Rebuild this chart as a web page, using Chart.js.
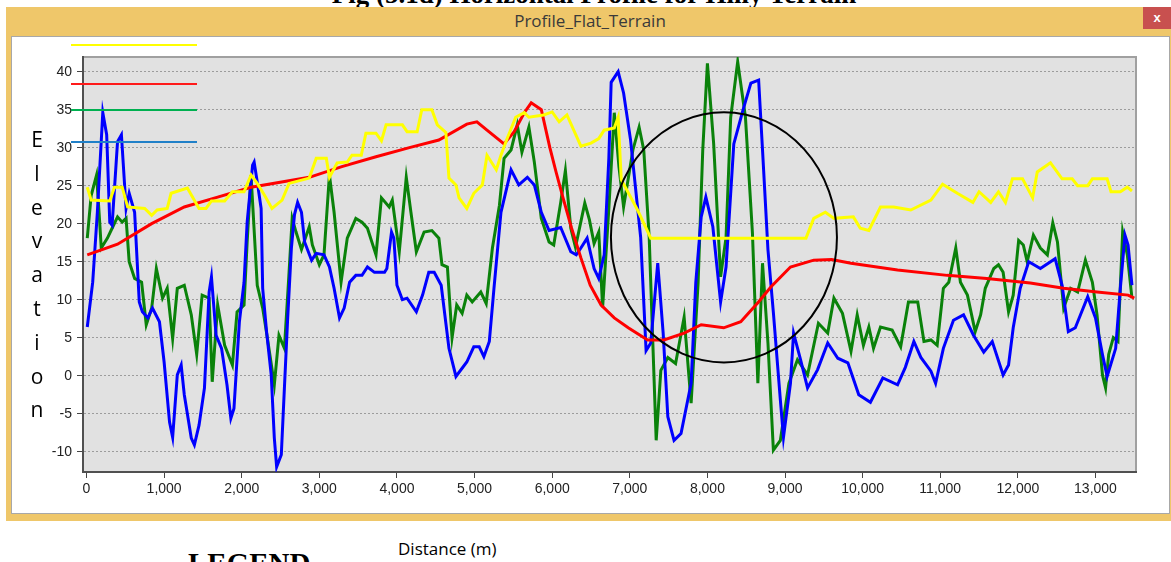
<!DOCTYPE html>
<html>
<head>
<meta charset="utf-8">
<script src="https://cdn.jsdelivr.net/npm/chart.js@4.4.1/dist/chart.umd.min.js"></script>
<style>
	body { margin: 0; width: 1171px; height: 562px; overflow: hidden; background: #fff; position: relative; }
	#figTitle { position: absolute; left: 0; width: 1188px; top: -19px; text-align: center; font: bold 27px/27px "Liberation Serif", serif; color: #000; white-space: nowrap; }
	#win { position: absolute; left: 6px; top: 7px; width: 1180px; height: 514px; background: #efc76a; }
	#winTitle { position: absolute; left: 0; top: 0; width: 1168px; height: 29px; text-align: center; font: 17px/27px "Open Sans", sans-serif; color: #3a3a3a; }
	#closeBtn { position: absolute; left: 1137px; top: 0; width: 28px; height: 22px; background: #c8504f; color: #fff; text-align: center; font: bold 13px/21px "Liberation Sans", sans-serif; }
	#panel { position: absolute; left: 5px; top: 29px; width: 1157px; height: 476px; background: #fff; border: 1px solid #a8a8a8; }
	#xTitle { position: absolute; left: 398px; top: 538px; font: 17px/22px "Open Sans", sans-serif; color: #000; }
	#legendTitle { position: absolute; left: 188px; top: 549px; font: bold 29px/29px "Liberation Serif", serif; color: #000; }
</style>
</head>
<body>
<div id="figTitle">Fig (5.1d) Horizontal Profile for Hilly Terrain</div>
<div id="win">
	<div id="winTitle">Profile_Flat_Terrain</div>
	<div id="closeBtn">x</div>
	<div id="panel"><canvas id="profile" width="1157" height="476"></canvas></div>
</div>
<div id="xTitle">Distance (m)</div>
<div id="legendTitle">LEGEND</div>

<script>
// [distance (m), elevation]
const yellowProfile = [
	[10, 24.8], [60, 23.1], [300, 23.0], [360, 24.8], [460, 24.8], [530, 22.2], [750, 22.0], [840, 21.1],
	[910, 21.8], [1040, 22.0], [1090, 24.0], [1300, 24.7], [1450, 22.0], [1540, 22.0], [1610, 23.0], [1780, 23.0],
	[1880, 24.2], [2030, 24.2], [2120, 26.4], [2200, 25.3], [2290, 23.8], [2390, 22.0], [2520, 23.1], [2610, 25.3],
	[2870, 26.0], [2960, 28.6], [3090, 28.6], [3130, 26.1], [3230, 28.0], [3360, 28.1], [3420, 29.0], [3540, 29.0],
	[3600, 31.9], [3730, 31.9], [3800, 30.9], [3860, 33.0], [4070, 33.0], [4130, 32.1], [4260, 32.1], [4320, 35.0],
	[4450, 35.0], [4520, 33.0], [4630, 32.0], [4670, 26.0], [4760, 25.1], [4800, 23.4], [4900, 22.0], [4990, 24.0],
	[5100, 25.1], [5160, 29.0], [5280, 27.1], [5340, 29.0], [5420, 31.2], [5530, 34.0], [5640, 34.6], [5700, 34.0],
	[5890, 34.3], [6000, 34.7], [6090, 33.4], [6190, 34.3], [6370, 30.2], [6500, 30.6], [6600, 31.2], [6670, 32.3],
	[6800, 32.6], [6850, 34.0], [6890, 25.8], [7100, 21.8], [7270, 18.1], [9270, 18.1], [9370, 20.7], [9520, 21.5],
	[9630, 20.7], [9880, 20.9], [9970, 19.4], [10080, 19.1], [10230, 22.2], [10400, 22.2], [10620, 21.8], [10880, 23.1],
	[11030, 25.2], [11220, 24.0], [11420, 22.8], [11500, 24.2], [11650, 22.8], [11750, 24.2], [11840, 22.8], [11930, 25.9],
	[12060, 25.9], [12190, 23.4], [12250, 26.8], [12420, 28.0], [12570, 25.9], [12700, 25.9], [12770, 25.0], [12900, 25.0],
	[12960, 25.9], [13150, 25.9], [13200, 24.2], [13320, 24.2], [13410, 24.8], [13470, 24.3]
];

const redProfile = [
	[10, 15.9], [400, 17.3], [840, 20.0], [1260, 22.2], [1690, 23.5], [2120, 24.8], [2870, 26.1], [3290, 27.5],
	[3730, 28.8], [4160, 30.0], [4540, 31.0], [4900, 33.1], [5030, 33.4], [5160, 32.3], [5380, 30.5], [5510, 32.1],
	[5640, 34.6], [5730, 35.9], [5860, 35.0], [5970, 30.0], [6050, 26.8], [6140, 23.4], [6250, 19.4], [6370, 15.5],
	[6490, 11.9], [6630, 9.3], [6800, 7.6], [6980, 6.3], [7230, 4.7], [7440, 4.7], [7700, 5.6], [7920, 6.7],
	[8210, 6.3], [8430, 7.1], [8650, 9.6], [8820, 11.7], [9070, 14.3], [9370, 15.2], [9600, 15.3], [9850, 14.8],
	[10450, 13.9], [11090, 13.2], [11600, 12.8], [12160, 12.2], [12590, 11.5], [13020, 11.0], [13420, 10.6], [13500, 10.2]
];

const blueProfile = [
	[10, 6.4], [80, 12.3], [140, 21.5], [210, 34.6], [260, 31.7], [300, 20.2], [330, 19.8], [400, 30.8],
	[450, 31.7], [510, 22.0], [550, 24.0], [620, 21.5], [680, 9.7], [720, 8.4], [790, 7.6], [850, 8.9],
	[940, 7.1], [1000, 1.8], [1070, -6.1], [1110, -8.1], [1170, 0.1], [1220, 1.4], [1260, -2.5], [1350, -8.2],
	[1390, -9.1], [1450, -6.5], [1520, -1.6], [1580, 11.0], [1610, 13.0], [1670, 5.3], [1740, 3.6], [1810, -1.2],
	[1860, -5.6], [1900, -4.3], [1970, 7.1], [2030, 12.3], [2070, 20.2], [2140, 27.7], [2160, 28.1], [2200, 25.5],
	[2250, 22.0], [2270, 11.5], [2320, 5.8], [2380, 0.1], [2420, -8.2], [2450, -12.0], [2510, -10.4], [2550, -1.6],
	[2590, 7.1], [2640, 16.8], [2680, 21.2], [2720, 22.8], [2770, 21.5], [2810, 17.6], [2900, 15.2], [2960, 16.1],
	[3060, 15.9], [3130, 14.3], [3190, 11.5], [3260, 7.6], [3320, 8.9], [3390, 12.3], [3470, 13.2], [3550, 13.2],
	[3620, 14.3], [3710, 13.6], [3840, 13.6], [3870, 14.1], [3930, 18.9], [3960, 18.1], [4000, 11.9], [4070, 10.0],
	[4130, 10.2], [4250, 8.4], [4330, 10.6], [4410, 13.6], [4480, 13.6], [4570, 11.9], [4670, 3.6], [4760, -0.1],
	[4900, 1.8], [4990, 3.8], [5060, 3.8], [5120, 2.5], [5190, 4.5], [5250, 11.5], [5340, 21.5], [5470, 27.1],
	[5570, 25.1], [5680, 26.1], [5770, 25.1], [5860, 21.5], [5960, 19.1], [6110, 19.5], [6240, 16.3], [6310, 15.9],
	[6370, 16.8], [6450, 18.1], [6540, 14.1], [6600, 12.8], [6670, 15.9], [6730, 28.6], [6760, 38.6], [6850, 40.0],
	[6920, 37.2], [7010, 31.0], [7140, 18.2], [7210, 3.3], [7270, 4.3], [7360, 14.8], [7430, 5.6], [7490, -5.4],
	[7570, -8.5], [7660, -7.6], [7790, -1.0], [7850, 12.2], [7920, 20.9], [7980, 23.5], [8070, 19.6], [8170, 9.7],
	[8240, 14.3], [8340, 30.5], [8460, 35.0], [8560, 38.5], [8660, 38.9], [8710, 29.7], [8780, 16.6], [8850, 8.3],
	[8940, -3.2], [8980, -8.1], [9070, -1.0], [9110, 5.6], [9200, 2.1], [9290, -1.6], [9420, 0.8], [9550, 4.3],
	[9680, 2.3], [9810, 1.7], [9950, -2.5], [10100, -3.5], [10260, -0.3], [10450, -1.2], [10550, 1.1], [10660, 4.5],
	[10750, 2.4], [10880, 0.6], [10940, -1.0], [11040, 3.6], [11170, 7.3], [11300, 8.0], [11430, 5.3], [11560, 3.1],
	[11670, 4.5], [11810, 0.1], [11880, 1.4], [11940, 6.3], [12030, 11.5], [12140, 15.0], [12290, 14.1], [12480, 15.4],
	[12570, 11.9], [12650, 5.8], [12740, 6.3], [12900, 10.4], [13000, 7.6], [13090, 2.8], [13150, -0.1], [13260, 3.6],
	[13320, 11.5], [13380, 18.5], [13420, 17.2], [13470, 11.9]
];

const greenProfile = [
	[10, 18.1], [60, 23.7], [130, 26.4], [170, 20.2], [190, 16.8], [270, 18.1], [330, 19.4], [400, 20.9],
	[460, 20.2], [510, 20.7], [550, 15.0], [620, 12.8], [710, 12.3], [770, 6.7], [840, 8.9], [900, 14.1],
	[980, 10.2], [1040, 11.5], [1110, 4.9], [1170, 11.5], [1260, 11.9], [1350, 8.0], [1420, 2.8], [1490, 10.6],
	[1580, 10.2], [1620, -0.8], [1690, 9.3], [1780, 4.0], [1880, 1.4], [1940, 8.4], [2030, 9.3], [2070, 17.6],
	[2120, 26.4], [2200, 11.9], [2270, 8.9], [2330, 5.0], [2420, -1.2], [2480, 5.3], [2550, 3.6], [2610, 13.6],
	[2650, 20.7], [2700, 18.9], [2770, 16.6], [2870, 19.6], [2910, 17.2], [3000, 14.6], [3060, 15.9], [3130, 26.4],
	[3190, 21.5], [3280, 12.3], [3360, 18.1], [3470, 20.7], [3550, 20.2], [3620, 19.4], [3730, 15.9], [3800, 23.4],
	[3900, 22.2], [3940, 23.1], [4030, 16.3], [4120, 26.1], [4180, 21.5], [4250, 16.3], [4350, 18.9], [4450, 19.1],
	[4540, 18.1], [4580, 14.6], [4650, 14.3], [4710, 5.0], [4770, 9.3], [4840, 8.2], [4900, 10.6], [4970, 9.7],
	[5080, 11.0], [5150, 9.5], [5230, 16.8], [5320, 22.4], [5380, 28.6], [5470, 29.7], [5550, 33.0], [5610, 29.4],
	[5700, 32.7], [5770, 28.1], [5860, 20.7], [5960, 17.6], [6020, 17.2], [6110, 22.8], [6170, 27.0], [6240, 19.4],
	[6300, 16.9], [6420, 22.7], [6480, 20.5], [6540, 17.4], [6600, 18.9], [6650, 9.0], [6730, 22.0], [6800, 34.6],
	[6860, 27.5], [6920, 22.2], [7040, 29.7], [7120, 32.7], [7180, 29.7], [7250, 18.2], [7340, -8.5], [7400, 0.7],
	[7490, 2.4], [7590, 1.6], [7700, 7.7], [7790, -3.6], [7880, 12.2], [7940, 29.7], [8000, 41.1], [8080, 30.6],
	[8170, 13.0], [8240, 18.2], [8300, 34.0], [8390, 41.3], [8490, 34.0], [8580, 18.8], [8650, -1.0], [8710, 14.8],
	[8780, 4.3], [8850, -9.8], [8940, -8.5], [9050, -1.0], [9160, 2.1], [9290, 0.1], [9430, 6.9], [9550, 5.6],
	[9630, 10.2], [9740, 8.2], [9850, 3.2], [9930, 8.0], [10010, 4.0], [10080, 6.4], [10140, 3.6], [10230, 6.4],
	[10380, 6.0], [10490, 3.8], [10590, 9.7], [10710, 9.7], [10790, 4.5], [10880, 4.7], [10960, 4.0], [11040, 11.5],
	[11110, 12.3], [11200, 16.8], [11260, 12.3], [11350, 10.6], [11450, 5.8], [11520, 8.0], [11580, 11.5], [11690, 14.1],
	[11750, 14.6], [11810, 13.6], [11880, 8.4], [11940, 10.6], [12010, 17.8], [12070, 17.2], [12120, 15.0], [12200, 18.5],
	[12290, 16.8], [12380, 15.9], [12450, 20.1], [12510, 17.6], [12590, 8.9], [12680, 11.5], [12770, 11.0], [12870, 15.2],
	[12960, 12.3], [13020, 8.0], [13090, 0.1], [13130, -1.6], [13170, 2.8], [13230, 5.0], [13290, 4.5], [13350, 18.9],
	[13410, 15.9], [13470, 10.2]
];

const distanceTicks = [0, 1000, 2000, 3000, 4000, 5000, 6000, 7000, 8000, 9000, 10000, 11000, 12000, 13000];
const elevationTicks = [-10, -5, 0, 5, 10, 15, 20, 25, 30, 35, 40];

// highlighted zone (circle drawn in data units)
const zoneCenter = [8213, 18.2];
const zoneRadius = [1456, 16.45];

const yAxisLetters = 'Elevation'.split('');
const legendColors = ['#ffff00', '#ff1a1a', '#00b050', '#2080c8'];

const toPoints = rows => rows.map(r => ({ x: r[0], y: r[1] }));

const plotFrame = {
	id: 'plotFrame',
	beforeDraw(chart) {
		const { ctx, chartArea: a } = chart;
		ctx.save();
		ctx.fillStyle = '#e1e1e1';
		ctx.fillRect(a.left, a.top, a.right - a.left, a.bottom - a.top);
		ctx.strokeStyle = '#a0a0a0';
		ctx.lineWidth = 2;
		ctx.beginPath();
		ctx.moveTo(a.left, a.top);
		ctx.lineTo(a.right, a.top);
		ctx.lineTo(a.right, a.bottom);
		ctx.stroke();
		ctx.restore();
	},
	afterDatasetsDraw(chart) {
		const { ctx, chartArea: a, scales: { x, y } } = chart;
		ctx.save();
		// circle around the zone
		const cx = x.getPixelForValue(zoneCenter[0]);
		const cy = y.getPixelForValue(zoneCenter[1]);
		const rx = x.getPixelForValue(zoneCenter[0] + zoneRadius[0]) - cx;
		const ry = cy - y.getPixelForValue(zoneCenter[1] + zoneRadius[1]);
		ctx.strokeStyle = '#000';
		ctx.lineWidth = 2;
		ctx.beginPath();
		ctx.ellipse(cx, cy, rx, ry, 0, 0, Math.PI * 2);
		ctx.stroke();

		// legend swatches without labels
		const rows = [-12, 27, 53, 85];
		ctx.lineWidth = 2;
		legendColors.forEach((c, i) => {
			ctx.strokeStyle = c;
			ctx.beginPath();
			ctx.moveTo(a.left - 12, a.top + rows[i]);
			ctx.lineTo(a.left + 114, a.top + rows[i]);
			ctx.stroke();
		});

		// stacked axis title
		ctx.fillStyle = '#000';
		ctx.font = '21px "Open Sans", sans-serif';
		ctx.textAlign = 'center';
		ctx.textBaseline = 'alphabetic';
		yAxisLetters.forEach((ch, i) => {
			ctx.fillText(ch, a.left - 46, a.top + 90 + i * 33.8);
		});
		ctx.restore();
	}
};

const ctx = document.getElementById('profile');

new Chart(ctx, {
	type: 'line',
	data: {
		datasets: [
			{ label: 'yellow', data: toPoints(yellowProfile), borderColor: '#ffff00' },
			{ label: 'red', data: toPoints(redProfile), borderColor: '#ff0000' },
			{ label: 'blue', data: toPoints(blueProfile), borderColor: '#0000ff' },
			{ label: 'green', data: toPoints(greenProfile), borderColor: '#0a820a' }
		]
	},
	options: {
		responsive: false,
		animation: false,
		devicePixelRatio: 1,
		layout: { padding: { left: 0, top: 20, right: 33, bottom: 11 } },
		elements: {
			line: { borderWidth: 3, tension: 0, fill: false },
			point: { radius: 0 }
		},
		plugins: {
			legend: { display: false },
			tooltip: { enabled: false }
		},
		scales: {
			x: {
				type: 'linear',
				min: -45,
				max: 13522,
				afterBuildTicks: axis => { axis.ticks = distanceTicks.map(v => ({ value: v })); },
				afterFit: axis => { axis.height = 30; },
				grid: { drawOnChartArea: false, tickLength: 6, tickColor: '#444', tickWidth: 1 },
				border: { color: '#505050', width: 2 },
				ticks: {
					color: '#222',
					padding: 3,
					maxRotation: 0,
					font: { family: '"Liberation Sans", Arial, sans-serif', size: 14 },
					callback: v => v.toLocaleString('en-US')
				}
			},
			y: {
				min: -12.67,
				max: 41.93,
				afterBuildTicks: axis => { axis.ticks = elevationTicks.map(v => ({ value: v })); },
				afterFit: axis => { axis.width = 71; },
				grid: { color: '#9c9c9c', lineWidth: 1, tickLength: 6, tickColor: '#444', tickWidth: 1 },
				border: { color: '#505050', width: 2, dash: [2, 2] },
				ticks: {
					color: '#222',
					padding: 5,
					font: { family: '"Liberation Sans", Arial, sans-serif', size: 14 },
					callback: v => String(v)
				}
			}
		}
	},
	plugins: [plotFrame]
});
</script>
</body>
</html>
